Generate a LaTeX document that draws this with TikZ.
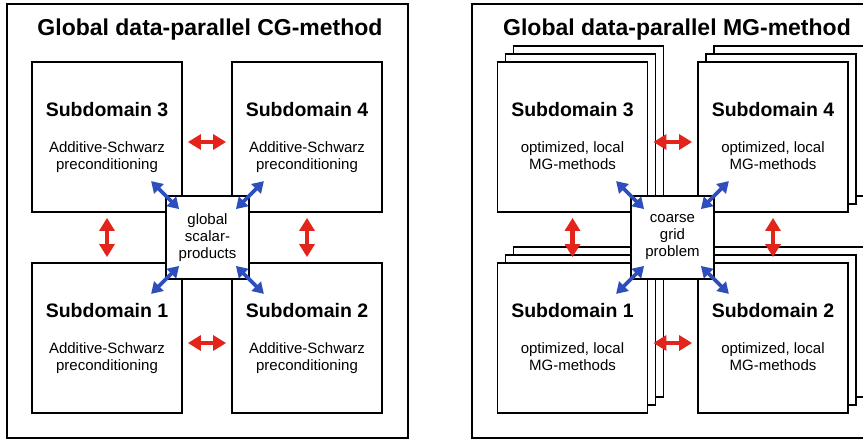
\documentclass[tikz,border=0pt]{standalone}
\usepackage{fontspec}
\setmainfont{Liberation Sans}
\usetikzlibrary{arrows.meta, shadows}
\definecolor{arrowred}{RGB}{226,36,26}
\definecolor{arrowblue}{RGB}{46,78,190}

\begin{document}
\begin{tikzpicture}[x=1pt, y=-1pt,
        frame/.style={draw, line width=2.4pt},
        subbox/.style={draw, line width=1.8pt, fill=white, minimum width=150pt, minimum height=150pt, inner sep=0pt},
        stackbox/.style={subbox, copy shadow={shadow xshift=16pt, shadow yshift=16pt}, copy shadow={shadow xshift=8pt, shadow yshift=8pt}},
        centerbox/.style={draw, line width=1.8pt, fill=white, minimum size=83pt, inner sep=0pt, align=center, font=\fontsize{15}{17}\selectfont},
        title/.style={anchor=base, font=\fontsize{23}{27}\selectfont\bfseries},
        head/.style={anchor=base, font=\fontsize{19.5}{23}\selectfont\bfseries},
        body/.style={anchor=north, align=center, inner sep=0pt, font=\fontsize{15}{17.5}\selectfont},
        redarrow/.style={{Triangle[length=13pt,width=15pt]}-{Triangle[length=13pt,width=15pt]}, line width=4.5pt, arrowred, shorten <=5pt, shorten >=5pt},
        bluearrow/.style={{Triangle[length=11pt,width=13pt]}-{Triangle[length=11pt,width=13pt]}, line width=3.8pt, arrowblue}]
    \clip (0,0) rectangle (863,440);

    % left: CG-method
    \draw[frame] (7,4) rectangle (408,438);
    \node[title] (cgtitle) at (210,35) {Global data-parallel CG-method};

    \node[subbox] at (107,137) (cg3) {};
    \node[subbox] at (307,137) (cg4) {};
    \node[subbox] at (107,338) (cg1) {};
    \node[subbox] at (307,338) (cg2) {};
    \foreach \n in {1,...,4} {
        \node[head] (cghead\n) at ([yshift=-55pt]cg\n.north) {Subdomain \n};
        \node[body] (cgbody\n) at ([yshift=-80pt]cg\n.north) {Additive-Schwarz\\preconditioning};
    }
    \node[centerbox] at (207.5,237.5) (cgc) {global\\scalar-\\products};

    \draw[redarrow] ([yshift=-5pt]cg3.east) -- ([yshift=-5pt]cg4.west);
    \draw[redarrow] ([yshift=-5pt]cg1.east) -- ([yshift=-5pt]cg2.west);
    \draw[redarrow] (cg3.south) -- (cg1.north);
    \draw[redarrow] (cg4.south) -- (cg2.north);
    \foreach \c/\dx/\dy in {north west/-1/1, north east/1/1, south west/-1/-1, south east/1/-1}
        \draw[bluearrow] ([shift={(\dx*14pt,\dy*14pt)}]cgc.\c) -- ([shift={(-\dx*14pt,-\dy*14pt)}]cgc.\c);

    % right: MG-method
    \draw[frame] (472,4) rectangle (873,438);
    \node[title] (mgtitle) at (677,35) {Global data-parallel MG-method};

    \node[stackbox] at (572.5,137) (mg3) {};
    \node[stackbox] at (773,137) (mg4) {};
    \node[stackbox] at (572.5,338) (mg1) {};
    \node[stackbox] at (773,338) (mg2) {};
    \foreach \n in {1,...,4} {
        \node[head] (mghead\n) at ([yshift=-55pt]mg\n.north) {Subdomain \n};
        \node[body] (mgbody\n) at ([yshift=-80pt]mg\n.north) {optimized, local\\MG-methods};
    }
    \node[centerbox] at (672.5,237.5) (mgc) {coarse\\grid\\problem};

    \draw[redarrow] ([yshift=-5pt]mg3.east) -- ([yshift=-5pt]mg4.west);
    \draw[redarrow] ([yshift=-5pt]mg1.east) -- ([yshift=-5pt]mg2.west);
    \draw[redarrow] (mg3.south) -- (mg1.north);
    \draw[redarrow] (mg4.south) -- (mg2.north);
    \foreach \c/\dx/\dy in {north west/-1/1, north east/1/1, south west/-1/-1, south east/1/-1}
        \draw[bluearrow] ([shift={(\dx*14pt,\dy*14pt)}]mgc.\c) -- ([shift={(-\dx*14pt,-\dy*14pt)}]mgc.\c);
\end{tikzpicture}
\end{document}
